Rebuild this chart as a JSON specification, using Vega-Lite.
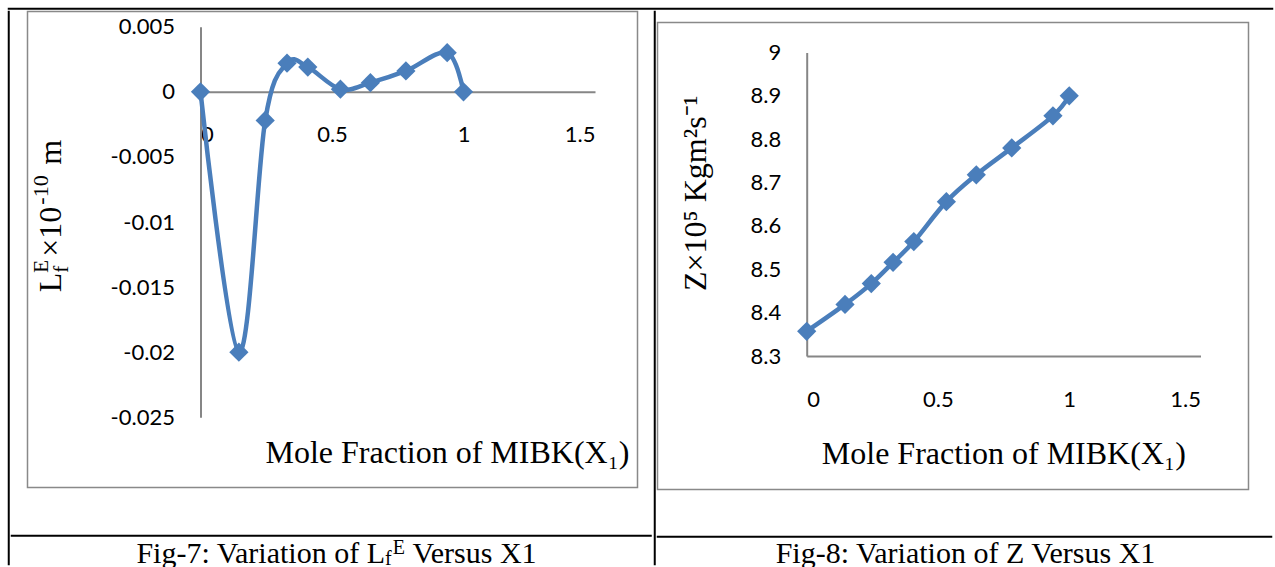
{
  "$schema": "https://vega.github.io/schema/vega-lite/v6.json",
  "background": "white",
  "padding": {"left": 7.5, "top": 7.5, "right": 0, "bottom": 0},
  "spacing": 0,
  "config": {
    "view": {"stroke": null},
    "axis": {
      "grid": false,
      "ticks": false,
      "domainColor": "#868686",
      "domainWidth": 2,
      "labelFont": "Lato",
      "labelFontSize": 22,
      "labelColor": "#000000",
      "format": "~g",
      "titleFont": "Liberation Serif",
      "titleFontSize": 32,
      "titleFontWeight": "normal",
      "titleColor": "#000000"
    },
    "text": {"font": "Liberation Serif", "color": "#000000"}
  },
  "datasets": {
    "mibk": [
      {"x": 0.0, "lfe": 0.0, "z": 8.357},
      {"x": 0.146, "lfe": -0.02, "z": 8.419},
      {"x": 0.246, "lfe": -0.0022, "z": 8.467},
      {"x": 0.329, "lfe": 0.0022, "z": 8.516},
      {"x": 0.408, "lfe": 0.0019, "z": 8.564},
      {"x": 0.532, "lfe": 0.0002, "z": 8.656},
      {"x": 0.646, "lfe": 0.0007, "z": 8.718},
      {"x": 0.781, "lfe": 0.0016, "z": 8.78},
      {"x": 0.938, "lfe": 0.003, "z": 8.854},
      {"x": 1.0, "lfe": 0.0, "z": 8.9}
    ]
  },
  "vconcat": [
    {"width": 1264, "height": 0.5, "data": {"values": []}, "mark": "point", "view": {"stroke": "#000000", "strokeWidth": 1.5}},
    {
      "spacing": 0,
      "hconcat": [
        {"width": 0.5, "height": 553, "data": {"values": []}, "mark": "point", "view": {"stroke": "#000000", "strokeWidth": 1.5}},
        {
          "spacing": 0,
          "vconcat": [
            {
              "spacing": 0,
              "hconcat": [
                {"width": 14.5, "height": 1, "data": {"values": []}, "mark": "point"},
                {
                  "width": 610,
                  "height": 476,
                  "view": {"stroke": "#898989", "strokeWidth": 1.5},
                  "data": {"name": "mibk"},
                  "layer": [
                    {
                      "mark": {"type": "line", "interpolate": "cardinal", "color": "#4A7EBB", "strokeWidth": 4.5},
                      "encoding": {
                        "x": {
                          "field": "x", "type": "quantitative",
                          "scale": {"domain": [0, 1.5], "range": [173, 567.5], "nice": false, "zero": false},
                          "axis": {
                            "orient": "bottom", "offset": -395.7, "values": [0, 0.5, 1, 1.5], "labelPadding": 33,
                            "title": "Mole Fraction of MIBK(X₁)", "titleX": 419.5, "titleY": 370.2,
                            "titleAlign": "center", "titleBaseline": "alphabetic"
                          }
                        },
                        "y": {
                          "field": "lfe", "type": "quantitative",
                          "scale": {"domain": [-0.025, 0.005], "range": [405.8, 15.2], "nice": false, "zero": false},
                          "axis": {
                            "orient": "left", "offset": -173,
                            "values": [-0.025, -0.02, -0.015, -0.01, -0.005, 0, 0.005],
                            "labelPadding": 26, "title": null,
                            "labelExpr": "replace(datum.label, '−', '-')"
                          }
                        }
                      }
                    },
                    {
                      "mark": {"type": "point", "shape": "diamond", "filled": true, "size": 370, "color": "#4A7EBB", "opacity": 1},
                      "encoding": {
                        "x": {"field": "x", "type": "quantitative"},
                        "y": {"field": "lfe", "type": "quantitative"}
                      }
                    },
                    {"data": {"values": [{}]}, "mark": {"type": "text", "text": "L", "angle": 270, "align": "left", "baseline": "alphabetic", "fontSize": 32, "dx": -42.8, "dy": -271.3}, "encoding": {}},
                    {"data": {"values": [{}]}, "mark": {"type": "text", "text": "f", "angle": 270, "align": "left", "baseline": "alphabetic", "fontSize": 21, "dx": -23.2, "dy": -264.3}, "encoding": {}},
                    {"data": {"values": [{}]}, "mark": {"type": "text", "text": "E", "angle": 270, "align": "left", "baseline": "alphabetic", "fontSize": 21, "dx": -23.2, "dy": -284.3}, "encoding": {}},
                    {"data": {"values": [{}]}, "mark": {"type": "text", "text": "×10", "angle": 270, "align": "left", "baseline": "alphabetic", "fontSize": 32, "dx": -7.2, "dy": -271.3}, "encoding": {}},
                    {"data": {"values": [{}]}, "mark": {"type": "text", "text": "-10", "angle": 270, "align": "left", "baseline": "alphabetic", "fontSize": 22, "dx": 44.8, "dy": -284.8}, "encoding": {}},
                    {"data": {"values": [{}]}, "mark": {"type": "text", "text": "m", "angle": 270, "align": "left", "baseline": "alphabetic", "fontSize": 32, "dx": 84.8, "dy": -271.3}, "encoding": {}}
                  ]
                },
                {"width": 15, "height": 1, "data": {"values": []}, "mark": "point"}
              ]
            },
            {"width": 1, "height": 45.5, "data": {"values": []}, "mark": "point"},
            {"width": 639.5, "height": 0.5, "data": {"values": []}, "mark": "point", "view": {"stroke": "#000000", "strokeWidth": 1.5}},
            {
              "width": 642,
              "height": 27,
              "data": {"values": [{}]},
              "layer": [
                {"mark": {"type": "text", "text": "Fig-7: Variation of L", "align": "right", "baseline": "alphabetic", "fontSize": 30, "dx": 52.5, "dy": 8.5}, "encoding": {}},
                {"mark": {"type": "text", "text": "f", "align": "left", "baseline": "alphabetic", "fontSize": 20, "dx": 52.5, "dy": 10.5}, "encoding": {}},
                {"mark": {"type": "text", "text": "E", "align": "left", "baseline": "alphabetic", "fontSize": 20, "dx": 60.2, "dy": -0.5}, "encoding": {}},
                {"mark": {"type": "text", "text": "Versus X1", "align": "left", "baseline": "alphabetic", "fontSize": 30, "dx": 79.9, "dy": 8.5}, "encoding": {}}
              ]
            }
          ]
        },
        {"width": 0.5, "height": 553, "data": {"values": []}, "mark": "point", "view": {"stroke": "#000000", "strokeWidth": 1.5}},
        {
          "spacing": 0,
          "vconcat": [
            {"width": 1, "height": 9.5, "data": {"values": []}, "mark": "point"},
            {
              "width": 591,
              "height": 467,
              "view": {"stroke": "#898989", "strokeWidth": 1.5},
              "data": {"name": "mibk"},
              "layer": [
                {
                  "mark": {"type": "line", "interpolate": "cardinal", "color": "#4A7EBB", "strokeWidth": 4.5},
                  "encoding": {
                    "x": {
                      "field": "x", "type": "quantitative",
                      "scale": {"domain": [0, 1.5], "range": [149.2, 543], "nice": false, "zero": false},
                      "axis": {
                        "orient": "bottom", "offset": -133.5, "values": [0, 0.5, 1, 1.5], "labelPadding": 33,
                        "title": "Mole Fraction of MIBK(X₁)", "titleX": 345.8, "titleY": 107.2,
                        "titleAlign": "center", "titleBaseline": "alphabetic"
                      }
                    },
                    "y": {
                      "field": "z", "type": "quantitative",
                      "scale": {"domain": [8.3, 9], "range": [333.5, 30], "nice": false, "zero": false},
                      "axis": {
                        "orient": "left", "offset": -149.2,
                        "values": [8.3, 8.4, 8.5, 8.6, 8.7, 8.8, 8.9, 9],
                        "labelPadding": 26,
                        "title": "Z×10⁵ Kgm²s⁻¹", "titleAngle": 270, "titleX": -101, "titleY": 268,
                        "titleAlign": "left", "titleBaseline": "alphabetic"
                      }
                    }
                  }
                },
                {
                  "mark": {"type": "point", "shape": "diamond", "filled": true, "size": 370, "color": "#4A7EBB", "opacity": 1},
                  "encoding": {
                    "x": {"field": "x", "type": "quantitative"},
                    "y": {"field": "z", "type": "quantitative"}
                  }
                }
              ]
            },
            {"width": 1, "height": 45, "data": {"values": []}, "mark": "point"},
            {"width": 614, "height": 0.5, "data": {"values": []}, "mark": "point", "view": {"stroke": "#000000", "strokeWidth": 1.5}},
            {
              "width": 616,
              "height": 27,
              "data": {"values": [{}]},
              "mark": {"type": "text", "text": "Fig-8: Variation of Z Versus X1", "align": "center", "baseline": "alphabetic", "fontSize": 30, "dx": 0, "dy": 8.5},
              "encoding": {}
            }
          ]
        }
      ]
    }
  ]
}
